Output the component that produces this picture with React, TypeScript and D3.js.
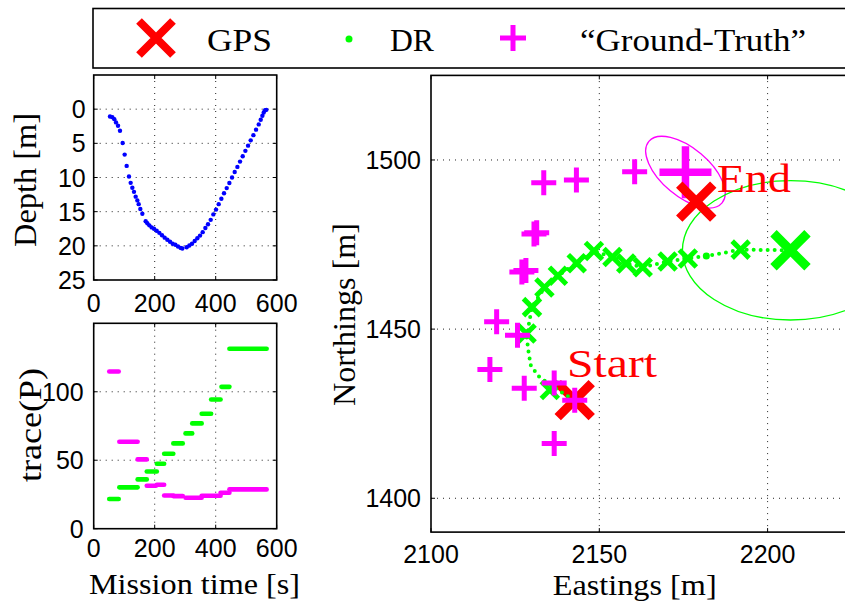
import React from "react";
import * as d3 from "d3";

// ---------- Depth profile (top-left) ----------
const depthTime = [53.4, 61.1, 67.7, 73.1, 79.7, 86.2, 94.9, 101.5, 108.1, 115.7, 121.2, 126.7, 132.1, 137.6, 143.1, 147.5, 152.9, 159.5, 170.4, 175.8, 182.4, 190, 197.7, 206.4, 215.2, 223.9, 232.7, 241.4, 250.2, 258.9, 267.7, 276.4, 285.1, 290.6, 304.8, 313.6, 322.3, 331.1, 339.8, 348.6, 357.3, 366.1, 374.8, 383.6, 392.3, 401.1, 409.8, 418.6, 427.3, 436.1, 444.8, 453.6, 462.3, 471.1, 479.8, 488.6, 497.3, 506.1, 514.8, 523.6, 532.3, 541.1, 547.6, 553.1, 557.5, 561.9, 566.2];
const depthValue = [1.07, 1.17, 1.46, 1.94, 2.43, 3.16, 4.95, 6.65, 8.3, 9.85, 10.78, 11.5, 12.1, 12.8, 13.35, 13.9, 14.6, 15.3, 16.4, 16.7, 17.0, 17.3, 17.5, 17.8, 18.1, 18.45, 18.8, 19.1, 19.4, 19.7, 19.85, 20.1, 20.3, 20.4, 20.2, 19.95, 19.7, 19.3, 18.9, 18.5, 18.0, 17.4, 16.85, 16.2, 15.4, 14.7, 13.9, 13.1, 12.3, 11.55, 10.8, 10.0, 9.2, 8.45, 7.67, 6.9, 6.1, 5.34, 4.56, 3.8, 3.0, 2.23, 1.55, 0.97, 0.49, 0.15, 0.1];
const depthXTicks = [0, 200, 400, 600];
const depthYTicks = [0, 5, 10, 15, 20, 25];

// ---------- trace(P) (bottom-left) ----------
const gtTraceStart = [51, 84, 144, 174, 207, 231, 261, 301, 354, 416, 445];
const gtTraceEnd = [82, 144, 174, 204, 231, 261, 292, 354, 416, 445, 567];
const gtTraceValue = [114.8, 63.5, 50.6, 31.4, 32.1, 24.3, 23.8, 22.6, 24.1, 26.3, 28.7];
const drTraceStart = [51, 84, 144, 174, 207, 231, 261, 301, 323, 354, 385, 419, 445];
const drTraceEnd = [82, 144, 174, 207, 231, 261, 292, 323, 354, 385, 416, 445, 567];
const drTraceValue = [21.7, 30.2, 36, 41.8, 47.4, 54.7, 62.3, 69.6, 76.9, 83.9, 94.4, 103.6, 131.4];
const traceXTicks = [0, 200, 400, 600];
const traceYTicks = [0, 50, 100];

// ---------- Map (right) ----------
const gtEast = [2133.5, 2143.2, 2160.5, 2130.6, 2131.4, 2127.0, 2128.2, 2119.5, 2125.7, 2117.5, 2127.7, 2136.6, 2142.7, 2136.6];
const gtNorth = [1493.3, 1494.1, 1496.5, 1478.1, 1478.5, 1466.9, 1467.3, 1452.2, 1448.2, 1438.1, 1432.5, 1434.1, 1429.0, 1416.2];
const gtFinalEast = [2175.6];
const gtFinalNorth = [1496.4];
const drEast = [2142.4, 2136.2, 2131.8, 2129.6, 2128.9, 2128.4, 2130.0, 2133.7, 2137.7, 2143.3, 2148.4, 2153.9, 2158.0, 2162.9, 2170.3, 2176.3, 2181.8, 2192.0, 2206.8];
const drNorth = [1429.0, 1433.0, 1436.2, 1439.4, 1443.8, 1447.8, 1456.5, 1462.3, 1465.8, 1469.5, 1473.1, 1471.3, 1469.4, 1468.3, 1470.0, 1470.9, 1471.6, 1473.5, 1473.3];
const drFixEast = [2135.3, 2128.4, 2130.0, 2133.7, 2137.7, 2143.3, 2148.4, 2153.9, 2158.0, 2162.9, 2170.3, 2176.3, 2192.0];
const drFixNorth = [1432.0, 1448.7, 1456.5, 1462.3, 1465.8, 1469.5, 1473.1, 1471.3, 1469.4, 1468.3, 1470.0, 1470.9, 1473.5];
const drFinalEast = [2206.8];
const drFinalNorth = [1473.3];
const drMidEast = [2181.8];
const drMidNorth = [1471.6];
const gpsEast = [2142.7, 2178.8];
const gpsNorth = [1429.0, 1487.7];
const gpsLabels = ["Start", "End"];
// covariance ellipses: [centre E, centre N, semi-axis E (m), semi-axis N (m), rotation deg]
const gtEllipse = [2175.6, 1496.4, 14.2, 7.1, 40];
const drEllipse = [2206.8, 1473.3, 32.1, 20.6, 0];
const mapXTicks = [2100, 2150, 2200, 2250];
const mapYTicks = [1400, 1450, 1500];

const legendLabels = ["GPS", "DR", "\u201CGround-Truth\u201D"];

const RED = "#ff0000";
const GREEN = "#00ff00";
const MAG = "#ff00ff";
const BLUE = "#0000ff";
const TICK_FONT = "'Liberation Sans', Arial, sans-serif";
const LABEL_FONT = "'Liberation Serif', 'Times New Roman', serif";

const xPath = (s: number) => `M${-s},${-s}L${s},${s}M${-s},${s}L${s},${-s}`;
const plusPath = (s: number) => `M${-s},0L${s},0M0,${-s}L0,${s}`;

function Grid({ x, y, xt, yt }: any) {
  const [x0, x1] = x.range();
  const [y0, y1] = y.range();
  return (
    <g stroke="#222" strokeWidth={1} strokeDasharray="1 5">
      {xt.map((t: number) => (
        <line key={"gx" + t} x1={x(t)} x2={x(t)} y1={y0} y2={y1} />
      ))}
      {yt.map((t: number) => (
        <line key={"gy" + t} x1={x0} x2={x1} y1={y(t)} y2={y(t)} />
      ))}
    </g>
  );
}

function Frame({ x, y, xt, yt, xLabelY, gap }: any) {
  const [x0, x1] = x.range();
  const [y0, y1] = y.range();
  const left = Math.min(x0, x1), right = Math.max(x0, x1);
  const top = Math.min(y0, y1), bottom = Math.max(y0, y1);
  return (
    <g>
      <g stroke="#000" strokeWidth={1}>
        {xt.map((t: number) => (
          <g key={"tx" + t}>
            <line x1={x(t)} x2={x(t)} y1={bottom} y2={bottom - 4} />
            <line x1={x(t)} x2={x(t)} y1={top} y2={top + 4} />
          </g>
        ))}
        {yt.map((t: number) => (
          <g key={"ty" + t}>
            <line x1={left} x2={left + 4} y1={y(t)} y2={y(t)} />
            <line x1={right} x2={right - 4} y1={y(t)} y2={y(t)} />
          </g>
        ))}
      </g>
      <rect x={left} y={top} width={right - left} height={bottom - top} fill="none" stroke="#000" strokeWidth={1.6} />
      <g fontFamily={TICK_FONT} fontSize={25} fill="#000">
        {xt.filter((t: number) => x(t) <= 845).map((t: number) => (
          <text key={"lx" + t} x={x(t)} y={xLabelY} textAnchor="middle">{t}</text>
        ))}
        {yt.map((t: number) => (
          <text key={"ly" + t} x={left - gap} y={y(t) + 9} textAnchor="end">{t}</text>
        ))}
      </g>
    </g>
  );
}

export default function App() {
  // top-left
  const dx = d3.scaleLinear().domain([0, 600]).range([93.7, 276.7]);
  const dy = d3.scaleLinear().domain([-5, 25]).range([75, 280]);
  // bottom-left
  const tx = d3.scaleLinear().domain([0, 600]).range([93.7, 276.7]);
  const ty = d3.scaleLinear().domain([0, 150]).range([528.7, 323.3]);
  // map
  const mx = d3.scaleLinear().domain([2100, 2240]).range([431, 431 + 140 * 3.366]);
  const my = d3.scaleLinear().domain([1390, 1525]).range([532.1, 75.4]);

  const drLine = d3.line<number>().x((_, i) => mx(drEast[i])).y((_, i) => my(drNorth[i]));
  const drPathD = drLine(drEast as any) || "";

  const ell = (e: number[]) => {
    const cx = mx(e[0]), cy = my(e[1]);
    const rx = Math.abs(mx(e[0] + e[2]) - cx), ry = Math.abs(my(e[1] + e[3]) - cy);
    return { cx, cy, rx, ry, rot: e[4] };
  };
  const ge = ell(gtEllipse);
  const de = ell(drEllipse);

  return (
    <svg width={845} height={602} style={{ position: "absolute", left: 0, top: 0, background: "#fff" }}>
      <rect width={845} height={602} fill="#fff" />

      {/* Legend */}
      <rect x={93} y={8.5} width={800} height={59.5} fill="#fff" stroke="#000" strokeWidth={1.6} />
      <path d={xPath(17)} transform="translate(156,38)" stroke={RED} strokeWidth={8} fill="none" />
      <circle cx={349} cy={39} r={3.5} fill={GREEN} />
      <path d={plusPath(13)} transform="translate(513,38)" stroke={MAG} strokeWidth={5} fill="none" />
      <g fontFamily={LABEL_FONT} fontSize={31} fill="#000">
        <text x={207} y={51} textLength={65} lengthAdjust="spacingAndGlyphs">{legendLabels[0]}</text>
        <text x={390} y={51} textLength={44} lengthAdjust="spacingAndGlyphs">{legendLabels[1]}</text>
        <text x={580} y={51} textLength={226} lengthAdjust="spacingAndGlyphs">{legendLabels[2]}</text>
      </g>

      {/* Top-left: depth */}
      <Grid x={dx} y={dy} xt={[200, 400]} yt={[0, 5, 10, 15, 20]} />
      <g fill={BLUE}>
        {depthTime.map((t, i) => (
          <circle key={i} cx={dx(t)} cy={dy(depthValue[i])} r={2.2} />
        ))}
      </g>
      <Frame x={dx} y={dy} xt={depthXTicks} yt={depthYTicks} xLabelY={312} gap={8} />
      <text transform="translate(36,180) rotate(-90)" textAnchor="middle" fontFamily={LABEL_FONT} fontSize={31} textLength={134} lengthAdjust="spacingAndGlyphs">Depth [m]</text>

      {/* Bottom-left: trace(P) */}
      <Grid x={tx} y={ty} xt={[200, 400]} yt={[50, 100]} />
      <g strokeWidth={4.6} strokeLinecap="round">
        {drTraceValue.map((v, i) => (
          <line key={"d" + i} x1={tx(drTraceStart[i])} x2={tx(drTraceEnd[i])} y1={ty(v)} y2={ty(v)} stroke={GREEN} />
        ))}
        {gtTraceValue.map((v, i) => (
          <line key={"g" + i} x1={tx(gtTraceStart[i])} x2={tx(gtTraceEnd[i])} y1={ty(v)} y2={ty(v)} stroke={MAG} />
        ))}
      </g>
      <Frame x={tx} y={ty} xt={traceXTicks} yt={traceYTicks} xLabelY={557} gap={10} />
      <text transform="translate(41,425) rotate(-90)" textAnchor="middle" fontFamily={LABEL_FONT} fontSize={31} textLength={114} lengthAdjust="spacingAndGlyphs">trace(P)</text>
      <text x={194.5} y={594} textAnchor="middle" fontFamily={LABEL_FONT} fontSize={30} textLength={211} lengthAdjust="spacingAndGlyphs">Mission time [s]</text>

      {/* Right: map */}
      <Grid x={mx} y={my} xt={[2150, 2200]} yt={mapYTicks} />
      <ellipse cx={ge.cx} cy={ge.cy} rx={ge.rx} ry={ge.ry} transform={`rotate(${ge.rot},${ge.cx},${ge.cy})`} fill="none" stroke={MAG} strokeWidth={1.3} />
      <ellipse cx={de.cx} cy={de.cy} rx={de.rx} ry={de.ry} transform={`rotate(${de.rot},${de.cx},${de.cy})`} fill="none" stroke={GREEN} strokeWidth={1.3} />
      {/* GPS start */}
      <path d={xPath(17)} transform={`translate(${mx(gpsEast[0])},${my(gpsNorth[0])})`} stroke={RED} strokeWidth={9} fill="none" />
      {/* DR track */}
      <path d={drPathD} fill="none" stroke={GREEN} strokeWidth={4} strokeLinecap="round" strokeDasharray="0 7" />
      <g stroke={GREEN} strokeWidth={5} fill="none">
        {drFixEast.map((e, i) => (
          <path key={i} d={xPath(8.5)} transform={`translate(${mx(e)},${my(drFixNorth[i])})`} />
        ))}
      </g>
      <circle cx={mx(drMidEast[0])} cy={my(drMidNorth[0])} r={3.5} fill={GREEN} />
      <g stroke={MAG} strokeWidth={5} fill="none">
        {gtEast.map((e, i) => (
          <path key={i} d={plusPath(12.5)} transform={`translate(${mx(e)},${my(gtNorth[i])})`} />
        ))}
      </g>
      <path d={plusPath(26)} transform={`translate(${mx(gtFinalEast[0])},${my(gtFinalNorth[0])})`} stroke={MAG} strokeWidth={7.5} fill="none" />
      <path d={xPath(17)} transform={`translate(${mx(drFinalEast[0])},${my(drFinalNorth[0])})`} stroke={GREEN} strokeWidth={9} fill="none" />
      <path d={xPath(17)} transform={`translate(${mx(gpsEast[1])},${my(gpsNorth[1])})`} stroke={RED} strokeWidth={9} fill="none" />
      <g fontFamily={LABEL_FONT} fontSize={40} fill={RED}>
        <text x={567} y={377} textLength={90} lengthAdjust="spacingAndGlyphs">{gpsLabels[0]}</text>
        <text x={717} y={192} textLength={74} lengthAdjust="spacingAndGlyphs">{gpsLabels[1]}</text>
      </g>
      <Frame x={mx} y={my} xt={mapXTicks} yt={mapYTicks} xLabelY={563} gap={10} />
      <text x={634.7} y={595} textAnchor="middle" fontFamily={LABEL_FONT} fontSize={30} textLength={164} lengthAdjust="spacingAndGlyphs">Eastings [m]</text>
      <text transform="translate(355,314.5) rotate(-90)" textAnchor="middle" fontFamily={LABEL_FONT} fontSize={31} textLength={183} lengthAdjust="spacingAndGlyphs">Northings [m]</text>
    </svg>
  );
}
